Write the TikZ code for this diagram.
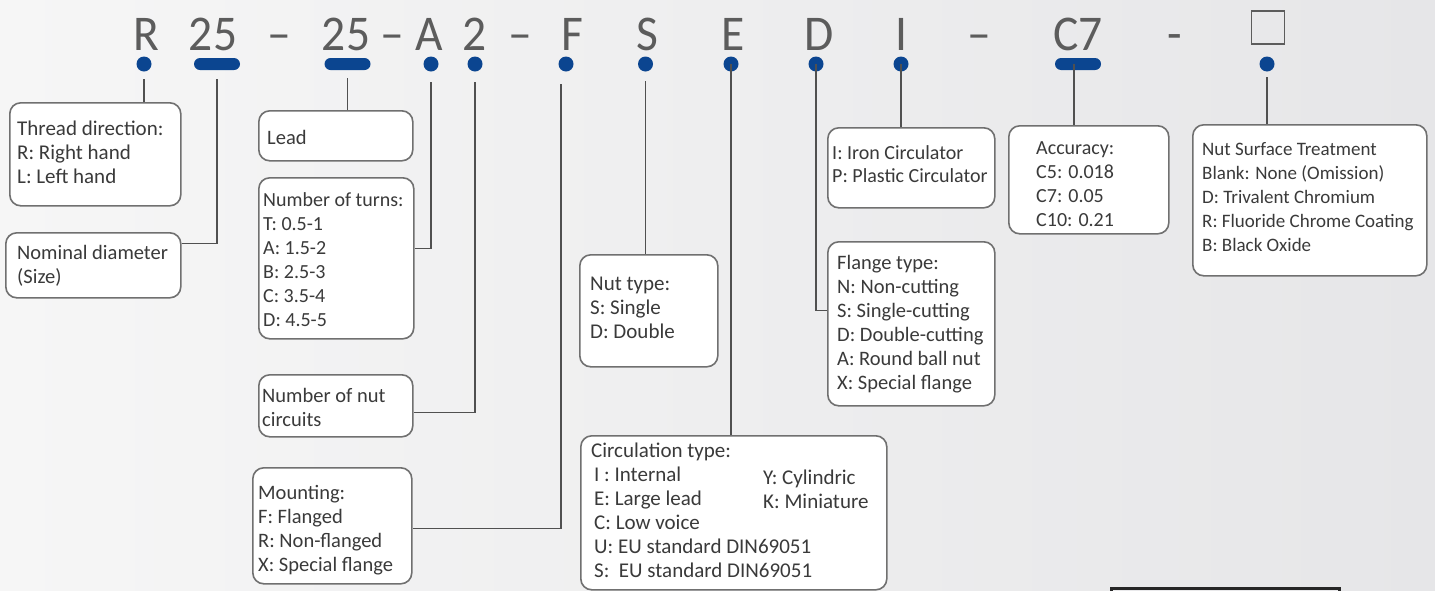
\documentclass[tikz,border=0pt]{standalone}
\usepackage{fontspec}
\setmainfont{Carlito}
\newfontfamily\codefont[FakeStretch=0.95]{Carlito}
\usetikzlibrary{shapes.geometric}
\definecolor{navy}{HTML}{0B4590}
\definecolor{boxline}{HTML}{707070}
\definecolor{connc}{HTML}{505050}
\definecolor{txtc}{HTML}{3A3A3A}
\definecolor{codec}{HTML}{5C5C5C}
\definecolor{bgl}{HTML}{F6F6F6}
\definecolor{bgr}{HTML}{E6E6E8}
\tikzset{
  box/.style={draw=boxline, line width=1.6pt, fill=white, rounded corners=11pt, anchor=north west, inner sep=0pt},
  connline/.style={draw=connc, line width=1.3pt},
  dotmark/.style={circle, fill=navy, minimum size=15pt, inner sep=0pt},
  barmark/.style={rectangle, fill=navy, rounded corners=6pt, minimum width=46pt, minimum height=12pt, inner sep=0pt},
  code/.style={anchor=base, inner sep=0pt, text=codec, font=\codefont\fontsize{50}{50}\selectfont},
  txt/.style={anchor=base west, inner sep=0pt, text=txtc},
}
\newcommand{\lines}[2][20.5]{{\fontsize{#1}{24}\selectfont\begin{tabular}[t]{@{}l@{}}#2\end{tabular}}}
\newcommand{\linesb}[2][20]{{\fontsize{#1}{23}\selectfont\begin{tabular}[t]{@{}l@{}}#2\end{tabular}}}
\begin{document}
\begin{tikzpicture}[x=1pt,y=-1pt]
\useasboundingbox (0,0) rectangle (1435,590);
\clip (0,0) rectangle (1435,590);
\shade[left color=bgl,right color=bgr] (0,0) rectangle (1435,590);

% code line
\node[code] (cR) at (146,50) {R};
\node[code] (c25a) at (213,50) {25};
\node[code] (cd1) at (279,50) {–};
\node[code] (c25b) at (346,50) {25};
\node[code] (cd2) at (392,50) {–};
\node[code] (cA) at (429,50) {A};
\node[code] (c2) at (475,50) {2};
\node[code] (cd3) at (520,50) {–};
\node[code] (cF) at (572,50) {F};
\node[code] (cS) at (647,50) {S};
\node[code] (cE) at (733,50) {E};
\node[code] (cD) at (819,50) {D};
\node[code] (cI) at (901,50) {I};
\node[code] (cd4) at (979,50) {–};
\node[code] (cC7) at (1078,50) {C7};
\node[code] (cd5) at (1175,50) {-};
\node[draw=codec, line width=1.8pt, minimum width=33pt, minimum height=33pt, anchor=north, inner sep=0pt] (csq) at (1268,10) {};

% marks
\node[dotmark] (dR) at (144,64) {};
\node[barmark] (d25a) at (217,64) {};
\node[barmark] (d25b) at (347.5,64) {};
\node[dotmark] (dA) at (431,64) {};
\node[dotmark] (d2) at (475,64) {};
\node[dotmark] (dF) at (566,64) {};
\node[dotmark] (dS) at (645.5,64) {};
\node[dotmark] (dE) at (731,64) {};
\node[dotmark] (dD) at (816,64) {};
\node[dotmark] (dI) at (901,64) {};
\node[barmark] (dC7) at (1078,64) {};
\node[dotmark] (dSq) at (1267,64) {};

% boxes
\node[box, minimum width=171pt, minimum height=103pt] (thread) at (9,102) {};
\node[box, minimum width=175pt, minimum height=65pt] (nominal) at (5,232) {};
\node[box, minimum width=154pt, minimum height=50pt] (lead) at (258,110) {};
\node[box, minimum width=155pt, minimum height=161pt] (turns) at (258,177) {};
\node[box, minimum width=154pt, minimum height=62pt] (circuits) at (258,374) {};
\node[box, minimum width=159pt, minimum height=116pt] (mounting) at (252,467) {};
\node[box, minimum width=138pt, minimum height=112pt] (nuttype) at (579,254) {};
\node[box, minimum width=306pt, minimum height=154pt] (circ) at (580,435) {};
\node[box, minimum width=167pt, minimum height=80pt] (iron) at (827,127) {};
\node[box, minimum width=167pt, minimum height=164pt] (flange) at (827,241) {};
\node[box, minimum width=160pt, minimum height=108pt] (acc) at (1008,125) {};
\node[box, minimum width=234pt, minimum height=151pt] (surf) at (1192,124) {};

% connectors
\draw[connline] ([yshift=-7.5pt]dR.south) -- (dR.south |- thread.north);
\draw[connline] ([yshift=-9pt]d25a.south) |- ([yshift=21.5pt]nominal.east);
\draw[connline] ([yshift=-8pt]d25b.south) -- (d25b.south |- lead.north);
\draw[connline] ([yshift=-10.5pt]dA.south) |- ([yshift=9.5pt]turns.east);
\draw[connline] ([yshift=-10.5pt]d2.south) |- ([yshift=-7pt]circuits.east);
\draw[connline] ([xshift=-5pt,yshift=-12.5pt]dF.south) |- ([yshift=-3pt]mounting.east);
\draw[connline] ([yshift=-9.5pt]dS.south) -- (dS.south |- nuttype.north);
\draw[connline] (dE.center) -- (dE.center |- circ.north);
\draw[connline] (dD.center) |- ([yshift=13pt]flange.west);
\draw[connline] (dI.center) -- (dI.center |- iron.north);
\draw[connline] ([xshift=-4pt]dC7.center) -- ([xshift=-4pt]dC7.center |- acc.north);
\draw[connline] ([yshift=-5.5pt]dSq.south) -- (dSq.south |- surf.north);

% texts
\node[txt] (tthread) at (17,135) {\lines[21]{Thread direction:\\R: Right hand\\L: Left hand}};
\node[txt] (tnominal) at (17,259) {\lines{Nominal diameter\\(Size)}};
\node[txt] (tlead) at (267,144) {\lines{Lead}};
\node[txt] (tturns) at (263,206) {\lines[20]{Number of turns:\\T: 0.5-1\\A: 1.5-2\\B: 2.5-3\\C: 3.5-4\\D: 4.5-5}};
\node[txt] (tcircuits) at (262,402) {\lines{Number of nut\\circuits}};
\node[txt] (tmount) at (258,499) {\lines{Mounting:\\F: Flanged\\R: Non-flanged\\X: Special flange}};
\node[txt] (tnut) at (590,290) {\lines[21]{Nut type:\\S: Single\\D: Double}};
\node[txt] (tcirc) at (591,457) {\lines[21]{Circulation type:\\\hspace{3pt}I : Internal\\\hspace{3pt}E: Large lead\\\hspace{3pt}C: Low voice\\\hspace{3pt}U: EU standard DIN69051\\\hspace{3pt}S:\ \ EU standard DIN69051}};
\node[txt] (tcirc2) at (763,484) {\lines[21]{Y: Cylindric\\K: Miniature}};
\node[txt] (tiron) at (832,159) {\linesb{I: Iron Circulator\\P: Plastic Circulator}};
\node[txt] (tflange) at (837,269) {\lines[20.5]{Flange type:\\N: Non-cutting\\S: Single-cutting\\D: Double-cutting\\A: Round ball nut\\X: Special flange}};
\node[txt] (tacc) at (1036,154) {\lines[20]{Accuracy:\\C5: 0.018\\C7: 0.05\\C10: 0.21}};
\node[txt] (tsurf) at (1202,155) {\lines[19]{Nut Surface Treatment\\Blank: None (Omission)\\D: Trivalent Chromium\\R: Fluoride Chrome Coating\\B: Black Oxide}};

% partial dark rectangle at bottom right
\node[draw=black!85, line width=2.5pt, minimum width=228pt, minimum height=30pt, anchor=north west, inner sep=0pt] (bottomrect) at (1110,587) {};
\end{tikzpicture}
\end{document}
